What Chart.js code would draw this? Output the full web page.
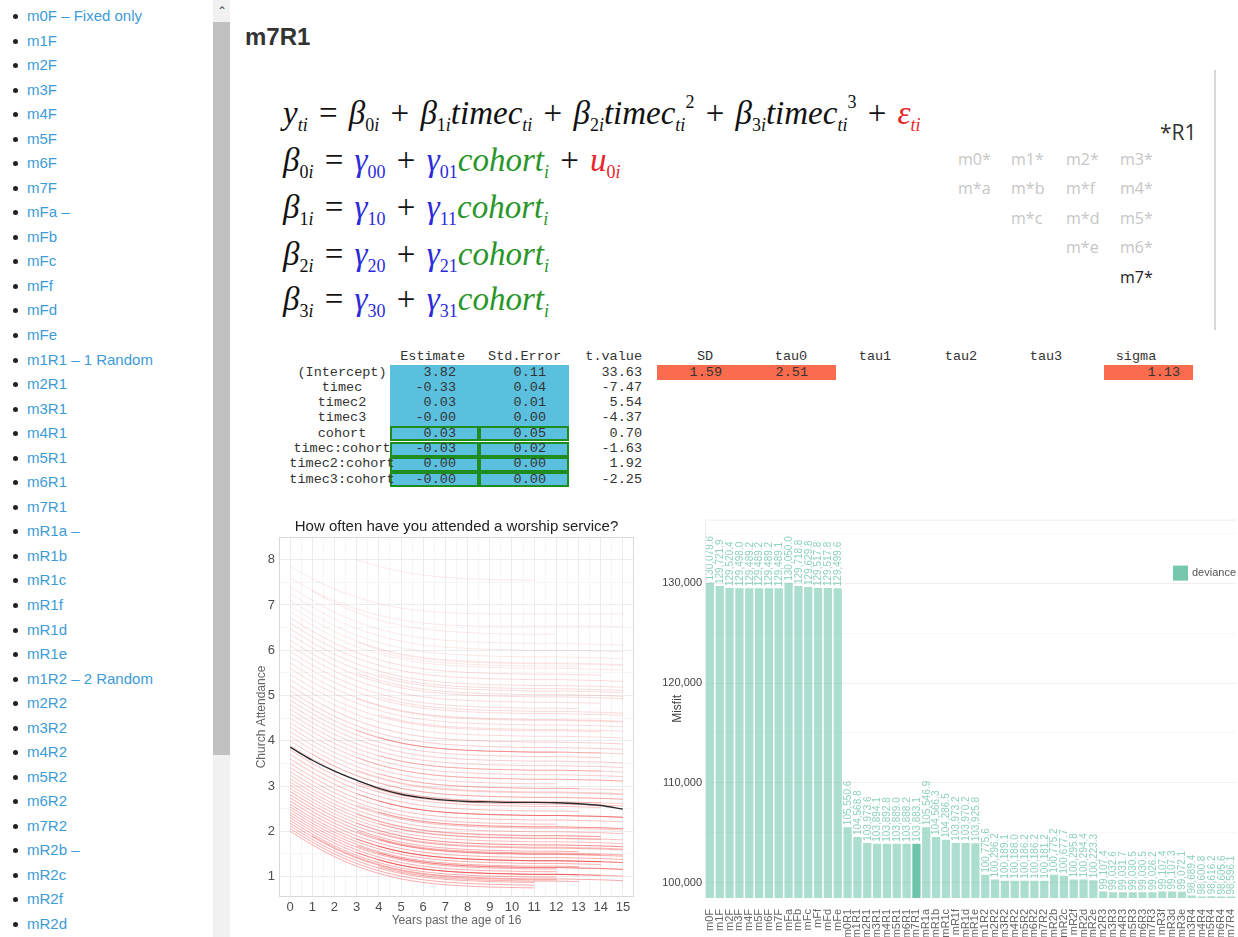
<!DOCTYPE html>
<html><head><meta charset="utf-8">
<script src="https://cdn.jsdelivr.net/npm/chart.js@4.4.1/dist/chart.umd.min.js"></script>
<style>
body{margin:0;width:1238px;height:937px;overflow:hidden;background:#fff;font-family:"Liberation Sans",Arial,sans-serif;position:relative}
.abs{position:absolute;white-space:nowrap}
#side li{position:absolute;left:27px;font-size:15px;color:#3d9bd6;line-height:18px;list-style:none;white-space:nowrap}
#side li:before{content:"";position:absolute;left:-14px;top:7px;width:5px;height:5px;border-radius:50%;background:#222}
#track{position:absolute;left:213px;top:0;width:17px;height:937px;background:#f1f1f1}
#thumb{position:absolute;left:213px;top:22px;width:17px;height:733px;background:#c1c1c1}
#arrow{position:absolute;left:213px;top:2px;width:17px;height:18px;text-align:center;font-size:12px;color:#555;line-height:18px}
h1{position:absolute;left:245px;top:22px;margin:0;font-size:24px;font-weight:bold;color:#333;line-height:30px}
.eq{position:absolute;left:283px;font-family:"Liberation Serif","Times New Roman",serif;font-style:italic;font-size:33px;line-height:36px;white-space:nowrap;color:#111;word-spacing:3px}
.eq sub{font-size:18px;vertical-align:-7px;line-height:0;word-spacing:0}
.eq sup{font-size:18px;vertical-align:16px;line-height:0}
.eq .n{font-style:normal}
.b{color:#2b2bd9}.g{color:#2a962a}.r{color:#e8252a}
.mg{position:absolute;font-family:"Open Sans",sans-serif;font-size:16px;color:#c6c6c6;line-height:18px}
.tb{position:absolute;font-family:"Liberation Mono","Courier New",monospace;font-size:13.5px;color:#333;line-height:16px;white-space:nowrap}
.cell{position:absolute;box-sizing:border-box}
</style></head>
<body>
<div id="side"><ul id="sideList" style="margin:0;padding:0"></ul></div>
<div id="track"></div><div id="thumb"></div><div id="arrow">&#8963;</div>
<h1>m7R1</h1>

<div class="eq" style="top:95px"><i>y</i><sub>ti</sub> <span class="n">=</span> <i>β</i><sub><span class="n">0</span>i</sub> <span class="n">+</span> <i>β</i><sub><span class="n">1</span>i</sub>timec<sub>ti</sub> <span class="n">+</span> <i>β</i><sub><span class="n">2</span>i</sub>timec<sub>ti</sub><sup class="n">2</sup> <span class="n">+</span> <i>β</i><sub><span class="n">3</span>i</sub>timec<sub>ti</sub><sup class="n">3</sup> <span class="n">+</span> <span class="r">ε<sub>ti</sub></span></div>
<div class="eq" style="top:142px"><i>β</i><sub><span class="n">0</span>i</sub> <span class="n">=</span> <span class="b">γ<sub class="n">00</sub></span> <span class="n">+</span> <span class="b">γ<sub class="n">01</sub></span><span class="g">cohort<sub>i</sub></span> <span class="n">+</span> <span class="r">u<sub><span class="n">0</span>i</sub></span></div>
<div class="eq" style="top:189px"><i>β</i><sub><span class="n">1</span>i</sub> <span class="n">=</span> <span class="b">γ<sub class="n">10</sub></span> <span class="n">+</span> <span class="b">γ<sub class="n">11</sub></span><span class="g">cohort<sub>i</sub></span></div>
<div class="eq" style="top:236px"><i>β</i><sub><span class="n">2</span>i</sub> <span class="n">=</span> <span class="b">γ<sub class="n">20</sub></span> <span class="n">+</span> <span class="b">γ<sub class="n">21</sub></span><span class="g">cohort<sub>i</sub></span></div>
<div class="eq" style="top:281px"><i>β</i><sub><span class="n">3</span>i</sub> <span class="n">=</span> <span class="b">γ<sub class="n">30</sub></span> <span class="n">+</span> <span class="b">γ<sub class="n">31</sub></span><span class="g">cohort<sub>i</sub></span></div>

<div class="abs" style="left:1160px;top:118px;font-family:'Open Sans',sans-serif;font-size:21px;color:#333">*R1</div>
<div id="modelGrid"></div>
<div class="abs" style="left:1214px;top:70px;width:2px;height:260px;background:#d8d8d8"></div>

<div id="tableBox"></div>

<canvas id="lineChart" width="395" height="420" style="position:absolute;left:250px;top:515px"></canvas>
<canvas id="barChart" width="578" height="427" style="position:absolute;left:660px;top:510px"></canvas>

<script>
// ---------- page text ----------
const sidebarItems = ['m0F – Fixed only','m1F','m2F','m3F','m4F','m5F','m6F','m7F','mFa –','mFb','mFc','mFf','mFd','mFe',
 'm1R1 – 1 Random','m2R1','m3R1','m4R1','m5R1','m6R1','m7R1','mR1a –','mR1b','mR1c','mR1f','mR1d','mR1e',
 'm1R2 – 2 Random','m2R2','m3R2','m4R2','m5R2','m6R2','m7R2','mR2b –','mR2c','mR2f','mR2d'];
const modelGrid = [['m0*',0,0],['m1*',1,0],['m2*',2,0],['m3*',3,0],['m*a',0,1],['m*b',1,1],['m*f',2,1],['m4*',3,1],
 ['m*c',1,2],['m*d',2,2],['m5*',3,2],['m*e',2,3],['m6*',3,3],['m7*',3,4]];
const rowNames = ['(Intercept)','timec','timec2','timec3','cohort','timec:cohort','timec2:cohort','timec3:cohort'];
const estimates = ['3.82','-0.33','0.03','-0.00','0.03','-0.03','0.00','-0.00'];
const stdErrors = ['0.11','0.04','0.01','0.00','0.05','0.02','0.00','0.00'];
const tValues = ['33.63','-7.47','5.54','-4.37','0.70','-1.63','1.92','-2.25'];
const randHeaders = ['SD','tau0','tau1','tau2','tau3','sigma'];
const randValues = ['1.59','2.51','','','','1.13'];

// ---------- chart 1 data ----------
const yearTicks = [0,1,2,3,4,5,6,7,8,9,10,11,12,13,14,15];
const attendanceTicks = [1,2,3,4,5,6,7,8];
const meanTrajectory = [3.86,3.57,3.33,3.13,2.95,2.82,2.74,2.69,2.66,2.65,2.64,2.64,2.63,2.61,2.57,2.49];
// [first year, predicted attendance per year]
const cohortLines = [
 [0,[2.00,1.70,1.44,1.23,1.07,0.95,0.87,0.82,0.79,0.77,0.76,0.75]],
 [0,[2.06,1.76,1.50,1.29,1.13,1.01,0.93,0.88,0.85,0.83,0.82,0.81]],
 [0,[2.12,1.82,1.56,1.35,1.19,1.07,0.99,0.94,0.91,0.89,0.88,0.87]],
 [0,[2.18,1.88,1.62,1.41,1.25,1.13,1.05,1.00,0.97,0.95,0.94,0.93,0.93]],
 [0,[2.24,1.94,1.68,1.47,1.31,1.19,1.11,1.06,1.03,1.01,1.00,0.99,0.99]],
 [0,[2.30,2.00,1.74,1.53,1.37,1.25,1.17,1.12,1.09,1.07,1.06,1.05,1.05,1.04]],
 [0,[2.36,2.06,1.80,1.59,1.43,1.31,1.23,1.18,1.15,1.13,1.12,1.11,1.11]],
 [0,[2.42,2.12,1.86,1.65,1.49,1.37,1.29,1.24,1.21,1.19,1.18,1.17,1.17]],
 [0,[2.48,2.18,1.92,1.71,1.55,1.43,1.35,1.30,1.27,1.25,1.24,1.23,1.23,1.22]],
 [0,[2.54,2.24,1.98,1.77,1.61,1.49,1.41,1.36,1.33,1.31,1.30,1.29,1.29,1.28,1.27]],
 [0,[2.60,2.30,2.04,1.83,1.67,1.55,1.47,1.42,1.39,1.37,1.36,1.35,1.35,1.34,1.33]],
 [0,[2.67,2.37,2.11,1.90,1.74,1.62,1.54,1.49,1.46,1.44,1.43,1.42,1.42,1.41,1.40,1.38]],
 [0,[2.74,2.44,2.18,1.97,1.81,1.69,1.61,1.56,1.53,1.51,1.50,1.49,1.49,1.48,1.47,1.45]],
 [0,[2.81,2.51,2.25,2.04,1.88,1.76,1.68,1.63,1.60,1.58,1.57,1.56,1.56,1.55]],
 [0,[2.88,2.58,2.32,2.11,1.95,1.83,1.75,1.70,1.67,1.65,1.64,1.63,1.63,1.62,1.61,1.59]],
 [0,[2.95,2.65,2.39,2.18,2.02,1.90,1.82,1.77,1.74,1.72,1.71,1.70,1.70,1.69,1.68,1.66]],
 [0,[3.02,2.72,2.46,2.25,2.09,1.97,1.89,1.84,1.81,1.79,1.78,1.77,1.77,1.76,1.75,1.73]],
 [0,[3.09,2.79,2.53,2.32,2.16,2.04,1.96,1.91,1.88,1.86,1.85,1.84,1.84,1.83,1.82]],
 [0,[3.16,2.86,2.60,2.39,2.23,2.11,2.03,1.98,1.95,1.93,1.92,1.91,1.91,1.90,1.89]],
 [0,[3.24,2.94,2.68,2.47,2.31,2.19,2.11,2.06,2.03,2.01,2.00,1.99,1.99,1.98,1.97,1.95]],
 [0,[3.32,3.02,2.76,2.55,2.39,2.27,2.19,2.14,2.11,2.09,2.08,2.07,2.07,2.06,2.05,2.03]],
 [0,[3.41,3.11,2.85,2.64,2.48,2.36,2.28,2.23,2.20,2.18,2.17,2.16,2.16]],
 [0,[3.50,3.20,2.94,2.73,2.57,2.45,2.37,2.32,2.29,2.27,2.26,2.25,2.25,2.24,2.23,2.21]],
 [0,[3.60,3.30,3.04,2.83,2.67,2.55,2.47,2.42,2.39,2.37,2.36,2.35,2.35,2.34,2.33,2.31]],
 [0,[3.70,3.40,3.14,2.93,2.77,2.65,2.57,2.52,2.49,2.47,2.46,2.45,2.45,2.44]],
 [0,[3.80,3.50,3.24,3.03,2.87,2.75,2.67,2.62,2.59,2.57,2.56,2.55,2.55,2.54,2.53]],
 [0,[3.90,3.60,3.34,3.13,2.97,2.85,2.77,2.72,2.69,2.67,2.66,2.65,2.65,2.64,2.63,2.61]],
 [0,[4.00,3.70,3.44,3.23,3.07,2.95,2.87,2.82,2.79,2.77,2.76,2.75,2.75,2.74,2.73,2.71]],
 [0,[4.10,3.80,3.54,3.33,3.17,3.05,2.97,2.92,2.89,2.87,2.86,2.85,2.85,2.84,2.83,2.81]],
 [0,[4.20,3.90,3.64,3.43,3.27,3.15,3.07,3.02,2.99,2.97,2.96,2.95,2.95,2.94]],
 [0,[4.30,4.00,3.74,3.53,3.37,3.25,3.17,3.12,3.09,3.07,3.06,3.05,3.05]],
 [0,[4.40,4.10,3.84,3.63,3.47,3.35,3.27,3.22,3.19,3.17,3.16,3.15,3.15,3.14,3.13,3.11]],
 [0,[4.50,4.20,3.94,3.73,3.57,3.45,3.37,3.32,3.29,3.27,3.26,3.25,3.25,3.24,3.23,3.21]],
 [0,[4.60,4.30,4.04,3.83,3.67,3.55,3.47,3.42,3.39,3.37,3.36,3.35,3.35,3.34,3.33]],
 [0,[4.70,4.40,4.14,3.93,3.77,3.65,3.57,3.52,3.49,3.47,3.46,3.45,3.45,3.44,3.43,3.41]],
 [0,[4.80,4.50,4.24,4.03,3.87,3.75,3.67,3.62,3.59,3.57,3.56,3.55,3.55,3.54,3.53,3.51]],
 [0,[4.90,4.60,4.34,4.13,3.97,3.85,3.77,3.72,3.69,3.67,3.66,3.65,3.65,3.64,3.63]],
 [0,[5.00,4.70,4.44,4.23,4.07,3.95,3.87,3.82,3.79,3.77,3.76,3.75,3.75]],
 [0,[5.10,4.80,4.54,4.33,4.17,4.05,3.97,3.92,3.89,3.87,3.86,3.85,3.85,3.84,3.83,3.81]],
 [0,[5.22,4.92,4.66,4.45,4.29,4.17,4.09,4.04,4.01,3.99,3.98,3.97,3.97,3.96,3.95,3.93]],
 [0,[5.35,5.05,4.79,4.58,4.42,4.30,4.22,4.17,4.14,4.12,4.11,4.10,4.10,4.09,4.08,4.06]],
 [0,[5.47,5.17,4.91,4.70,4.54,4.42,4.34,4.29,4.26,4.24,4.23,4.22,4.22,4.21,4.20]],
 [0,[5.60,5.30,5.04,4.83,4.67,4.55,4.47,4.42,4.39,4.37,4.36,4.35,4.35,4.34,4.33,4.31]],
 [0,[5.72,5.42,5.16,4.95,4.79,4.67,4.59,4.54,4.51,4.49,4.48,4.47,4.47,4.46,4.45,4.43]],
 [0,[5.85,5.55,5.29,5.08,4.92,4.80,4.72,4.67,4.64,4.62,4.61,4.60,4.60,4.59,4.58,4.56]],
 [0,[5.97,5.67,5.41,5.20,5.04,4.92,4.84,4.79,4.76,4.74,4.73,4.72,4.72,4.71]],
 [0,[6.10,5.80,5.54,5.33,5.17,5.05,4.97,4.92,4.89,4.87,4.86,4.85,4.85,4.84,4.83]],
 [0,[6.22,5.92,5.66,5.45,5.29,5.17,5.09,5.04,5.01,4.99,4.98,4.97,4.97,4.96,4.95,4.93]],
 [0,[6.35,6.05,5.79,5.58,5.42,5.30,5.22,5.17,5.14,5.12,5.11,5.10,5.10,5.09,5.08,5.06]],
 [0,[6.47,6.17,5.91,5.70,5.54,5.42,5.34,5.29,5.26,5.24,5.23,5.22,5.22,5.21,5.20,5.18]],
 [0,[6.60,6.30,6.04,5.83,5.67,5.55,5.47,5.42,5.39,5.37,5.36,5.35,5.35,5.34,5.33,5.31]],
 [0,[6.72,6.42,6.16,5.95,5.79,5.67,5.59,5.54,5.51,5.49,5.48,5.47,5.47,5.46,5.45]],
 [0,[6.85,6.55,6.29,6.08,5.92,5.80,5.72,5.67,5.64,5.62,5.61,5.60,5.60,5.59,5.58,5.56]],
 [0,[6.97,6.67,6.41,6.20,6.04,5.92,5.84,5.79,5.76,5.74,5.73,5.72,5.72,5.71,5.70,5.68]],
 [0,[7.10,6.80,6.54,6.33,6.17,6.05,5.97,5.92,5.89,5.87,5.86,5.85,5.85,5.84,5.83,5.81]],
 [0,[7.25,6.95,6.69,6.48,6.32,6.20,6.12,6.07,6.04,6.02,6.01,6.00,6.00,5.99,5.98,5.96]],
 [0,[7.40,7.10,6.84,6.63,6.47,6.35,6.27,6.22,6.19,6.17,6.16,6.15,6.15,6.14,6.13,6.11]],
 [0,[7.60,7.32,7.09,6.91,6.77,6.67,6.60,6.56,6.54,6.53,6.53,6.53,6.53,6.53,6.53,6.52]],
 [0,[7.85,7.58,7.35,7.17,7.03,6.93,6.87,6.83,6.81,6.80,6.80,6.80,6.80,6.80,6.80,6.80]],
 [1,[7.30,7.04,6.83,6.67,6.55,6.47,6.42,6.39,6.37,6.36,6.35,6.35]],
 [1,[3.70,3.44,3.23,3.07,2.95,2.87,2.82,2.79,2.77,2.76,2.75,2.75,2.74,2.73,2.71]],
 [1,[1.90,1.64,1.43,1.27,1.15,1.07,1.02,0.99,0.97,0.96,0.95,0.95,0.94,0.93,0.91]],
 [3,[1.53,1.37,1.25,1.17,1.12,1.09,1.07,1.06,1.05,1.05,1.04,1.03,1.01]],
 [3,[1.68,1.52,1.40,1.32,1.27,1.24,1.22,1.21,1.20,1.20,1.19,1.18,1.16]],
 [3,[1.83,1.67,1.55,1.47,1.42,1.39,1.37,1.36,1.35,1.35,1.34,1.33,1.31]],
 [3,[2.00,1.84,1.72,1.64,1.59,1.56,1.54,1.53,1.52,1.52,1.51,1.50,1.48]],
 [3,[2.18,2.02,1.90,1.82,1.77,1.74,1.72,1.71,1.70,1.70,1.69,1.68,1.66]],
 [3,[2.38,2.22,2.10,2.02,1.97,1.94,1.92,1.91,1.90,1.90,1.89,1.88]],
 [3,[2.58,2.42,2.30,2.22,2.17,2.14,2.12,2.11,2.10,2.10,2.09,2.08,2.06]],
 [3,[2.83,2.67,2.55,2.47,2.42,2.39,2.37,2.36,2.35,2.35,2.34,2.33,2.31]],
 [3,[3.08,2.92,2.80,2.72,2.67,2.64,2.62,2.61,2.60,2.60,2.59,2.58,2.56]],
 [3,[3.35,3.19,3.07,2.99,2.94,2.91,2.89,2.88,2.87,2.87,2.86,2.85,2.83]],
 [3,[3.63,3.47,3.35,3.27,3.22,3.19,3.17,3.16,3.15,3.15,3.14,3.13,3.11]],
 [3,[4.23,4.07,3.95,3.87,3.82,3.79,3.77,3.76,3.75,3.75,3.74,3.73,3.71]],
 [3,[4.93,4.77,4.65,4.57,4.52,4.49,4.47,4.46,4.45,4.45,4.44,4.43,4.41]],
 [3,[5.50,5.34,5.22,5.14,5.09,5.06,5.04,5.03,5.02,5.02,5.01,5.00,4.98]],
 [3,[6.18,6.02,5.90,5.82,5.77,5.74,5.72,5.71,5.70,5.70,5.69,5.68,5.66]],
 [3,[8.00,7.85,7.74,7.66,7.61,7.58,7.56,7.55,7.54]],
 [4,[1.22,1.10,1.02,0.97,0.94,0.92,0.91,0.90,0.90,0.89]],
 [4,[1.37,1.25,1.17,1.12,1.09,1.07,1.06,1.05,1.05,1.04,1.03]],
 [4,[1.52,1.40,1.32,1.27,1.24,1.22,1.21,1.20,1.20,1.19,1.18,1.16]],
 [4,[1.67,1.55,1.47,1.42,1.39,1.37,1.36,1.35,1.35,1.34,1.33,1.31]],
 [4,[1.82,1.70,1.62,1.57,1.54,1.52,1.51,1.50,1.50,1.49,1.48]],
 [4,[1.97,1.85,1.77,1.72,1.69,1.67,1.66,1.65,1.65,1.64,1.63,1.61]],
 [4,[2.17,2.05,1.97,1.92,1.89,1.87,1.86,1.85,1.85,1.84,1.83,1.81]],
 [4,[2.42,2.30,2.22,2.17,2.14,2.12,2.11,2.10,2.10,2.09,2.08,2.06]],
 [4,[2.67,2.55,2.47,2.42,2.39,2.37,2.36,2.35,2.35,2.34,2.33,2.31]],
 [4,[2.97,2.85,2.77,2.72,2.69,2.67,2.66,2.65,2.65,2.64,2.63]],
 [4,[3.27,3.15,3.07,3.02,2.99,2.97,2.96,2.95,2.95,2.94,2.93,2.91]],
 [4,[3.67,3.55,3.47,3.42,3.39,3.37,3.36,3.35,3.35,3.34,3.33,3.31]],
 [4,[4.07,3.95,3.87,3.82,3.79,3.77,3.76,3.75,3.75,3.74,3.73]],
 [4,[4.57,4.45,4.37,4.32,4.29,4.27,4.26,4.25,4.25,4.24,4.23,4.21]],
 [4,[4.97,4.85,4.77,4.72,4.69,4.67,4.66,4.65,4.65,4.64,4.63,4.61]],
 [4,[5.47,5.35,5.27,5.22,5.19,5.17,5.16,5.15,5.15,5.14,5.13,5.11]],
 [4,[5.97,5.85,5.77,5.72,5.69,5.67,5.66,5.65,5.65,5.64]]
];

// ---------- chart 2 data ----------
const models = ['m0F','m1F','m2F','m3F','m4F','m5F','m6F','m7F','mFa','mFb','mFc','mFf','mFd','mFe',
 'm0R1','m1R1','m2R1','m3R1','m4R1','m5R1','m6R1','m7R1','mR1a','mR1b','mR1c','mR1f','mR1d','mR1e',
 'm1R2','m2R2','m3R2','m4R2','m5R2','m6R2','m7R2','mR2b','mR2c','mR2f','mR2d','mR2e',
 'm2R3','m3R3','m4R3','m5R3','m6R3','m7R3','mR3f','mR3d','mR3e',
 'm3R4','m4R4','m5R4','m6R4','m7R4'];
const deviance = [130079.6,129721.9,129520.4,129498.0,129489.2,129489.2,129489.2,129489.1,130050.0,129718.8,129629.8,129517.8,129517.8,129499.6,
 105550.6,104568.8,103973.6,103894.1,103892.8,103889.0,103888.2,103883.1,105546.9,104566.3,104286.5,103973.2,103970.2,103925.8,
 100775.6,100296.2,100189.1,100188.0,100186.2,100186.2,100181.2,100775.2,100677.7,100295.8,100294.4,100223.3,
 99107.4,99032.6,99031.7,99030.5,99030.5,99026.2,99107.4,99107.3,99072.1,
 98689.4,98600.8,98616.2,98605.6,98596.1];
const misfitTicks = [100000,105000,110000,115000,120000,125000,130000,135000];
const currentModel = 'm7R1';

// ---------- build page text ----------
const ul = document.getElementById('sideList');
sidebarItems.forEach((t,i)=>{const li=document.createElement('li');li.textContent=t;li.style.top=(7+i*24.54)+'px';ul.appendChild(li);});
const mg = document.getElementById('modelGrid');
const gridX=[958,1011,1066,1120], gridY=[160,189,219,248,278];
modelGrid.forEach(([t,c,r])=>{const d=document.createElement('div');d.className='mg';d.textContent=t;d.style.left=gridX[c]+'px';d.style.top=(gridY[r]-10)+'px';if(t==='m7*')d.style.color='#222';mg.appendChild(d);});

const tb = document.getElementById('tableBox');
function txt(t,x,y,align){const d=document.createElement('div');d.className='tb';d.textContent=t;d.style.left=x+'px';d.style.top=(y-8)+'px';
 d.style.transform=align==='r'?'translateX(-100%)':align==='c'?'translateX(-50%)':'none';tb.appendChild(d);return d;}
function cell(x1,x2,y1,h,bg,border){const d=document.createElement('div');d.className='cell';d.style.left=x1+'px';d.style.top=y1+'px';d.style.width=(x2-x1)+'px';d.style.height=h+'px';d.style.background=bg;if(border)d.style.border=border;tb.appendChild(d);}
const rowTop=365,rowH=15.3;
rowNames.forEach((n,i)=>{
 const y1=rowTop+i*rowH;
 const bd = n.indexOf('cohort')>=0 ? '2px solid #1e8c1e' : null;
 cell(390,479,y1,rowH,'#5bc0de',bd); cell(479,569,y1,rowH,'#5bc0de',bd);
});
const randCells=[[657,748],[748,836],[836,920],[920,1005],[1005,1090],[1104,1193]];
const randHeadX=[705,791,875,961,1046,1136], randValX=[722,808,892,978,1062,1180];
randValues.forEach((v,j)=>{if(v!=='')cell(randCells[j][0],randCells[j][1],rowTop,rowH,'#fb6b4e',null);});
txt('Estimate',465,357,'r');txt('Std.Error',561,357,'r');txt('t.value',642,357,'r');
randHeaders.forEach((h,j)=>txt(h,randHeadX[j],357,'c'));
rowNames.forEach((n,i)=>{const y=rowTop+i*rowH+7.5;
 txt(n,342,y,'c');txt(estimates[i],456,y,'r');txt(stdErrors[i],546,y,'r');txt(tValues[i],642,y,'r');});
randValues.forEach((v,j)=>{if(v!=='')txt(v,randValX[j],rowTop+7.5,'r');});

// ---------- charts ----------
Chart.defaults.font.family='"Liberation Sans", Arial, sans-serif';
Chart.defaults.animation=false;

function withHalves(arr){const out=[];arr.forEach((v,i)=>{out.push({value:v});if(i<arr.length-1)out.push({value:(v+arr[i+1])/2});});return out;}
const panelBorder={id:'panelBorder',afterDraw(c,args,opts){const a=c.chartArea,x=c.ctx;x.save();x.strokeStyle=opts.color;x.lineWidth=1;x.strokeRect(a.left+0.5,a.top+0.5,a.width-1,a.height-1);x.restore();}};

const lineDatasets=[{
  data:meanTrajectory.map((y,i)=>({x:yearTicks[i],y})),
  borderColor:'#2a2a2a',borderWidth:1.4,pointRadius:0,cubicInterpolationMode:'monotone',order:0
}];
cohortLines.forEach(([start,vals])=>{
  const last=vals[vals.length-1];
  const a= last<1.6?0.36: last<2.6?0.28: last<4?0.21: last<5.5?0.16:0.1;
  lineDatasets.push({data:vals.map((y,i)=>({x:start+i,y})),borderColor:`rgba(238,30,30,${a})`,borderWidth:1,pointRadius:0,cubicInterpolationMode:'monotone',order:1});
});

new Chart(document.getElementById('lineChart'),{
  type:'line',
  data:{datasets:lineDatasets},
  options:{
    responsive:false,
    layout:{padding:{left:0,right:11,top:0,bottom:0}},
    plugins:{legend:{display:false},tooltip:{enabled:false},
      title:{display:true,fullSize:false,text:'How often have you attended a worship service?',color:'#222',font:{size:15,weight:'normal'},padding:{top:3,bottom:1}},
      panelBorder:{color:'#d9d9d9'}},
    scales:{
      x:{type:'linear',min:-0.5,max:15.5,
        afterBuildTicks:s=>{s.ticks=withHalves(yearTicks);},
        afterFit:s=>{s.height=38;},
        ticks:{autoSkip:false,maxRotation:0,color:'#4d4d4d',font:{size:13},padding:3,callback:v=>Number.isInteger(v)?String(v):''},
        grid:{drawTicks:false,color:c=>Number.isInteger(c.tick.value)?'#ececec':'#f6f6f6'},
        border:{display:false},
        title:{display:true,text:'Years past the age of 16',color:'#666',font:{size:12},padding:{top:0,bottom:7}}},
      y:{type:'linear',min:0.55,max:8.5,
        afterBuildTicks:s=>{s.ticks=withHalves(attendanceTicks).concat([{value:8.5}]);},
        afterFit:s=>{s.width=29;},
        ticks:{autoSkip:false,color:'#4d4d4d',font:{size:13},padding:4,callback:v=>Number.isInteger(v)?String(v):''},
        grid:{drawTicks:false,color:c=>Number.isInteger(c.tick.value)?'#ececec':'#f6f6f6'},
        border:{display:false},
        title:{display:true,text:'Church Attendance',color:'#666',font:{size:12},padding:{top:4,bottom:0}}}
    }
  },
  plugins:[panelBorder]
});

const fmt=v=>v.toLocaleString('en-US',{minimumFractionDigits:1,maximumFractionDigits:1});
const barLabels={id:'barLabels',afterDatasetsDraw(c){const x=c.ctx;const meta=c.getDatasetMeta(0);x.save();x.font='10px "Liberation Sans", Arial, sans-serif';x.fillStyle='rgba(102,194,165,0.75)';x.textAlign='left';x.textBaseline='middle';
  meta.data.forEach((el,i)=>{x.save();x.translate(el.x,el.y-2);x.rotate(-Math.PI/2);x.fillText(fmt(c.data.datasets[0].data[i]),0,0.5);x.restore();});x.restore();}};
const barLegend={id:'barLegend',afterDraw(c){const a=c.chartArea,x=c.ctx,ds=c.data.datasets[0];x.save();x.fillStyle='rgba(102,194,165,0.9)';x.fillRect(a.right-63,a.top+46,15,15);
  x.fillStyle='#555';x.font='11px "Liberation Sans", Arial, sans-serif';x.textBaseline='middle';x.textAlign='left';x.fillText(ds.label,a.right-44,a.top+53.5);x.restore();}};
const topLine={id:'topLine',afterDraw(c){const a=c.chartArea,x=c.ctx;x.save();x.strokeStyle='#ececec';x.lineWidth=1;x.beginPath();x.moveTo(a.left,a.top+0.5);x.lineTo(a.right,a.top+0.5);x.moveTo(a.left+0.5,a.top);x.lineTo(a.left+0.5,a.bottom);x.stroke();x.restore();}};

new Chart(document.getElementById('barChart'),{
  type:'bar',
  data:{labels:models,datasets:[{label:'deviance',data:deviance,
    backgroundColor:models.map(m=>m===currentModel?'rgba(102,194,165,0.95)':'rgba(102,194,165,0.55)'),
    barPercentage:0.84,categoryPercentage:1}]},
  options:{
    responsive:false,
    layout:{padding:{left:0,right:2,top:7,bottom:0}},
    plugins:{legend:{display:false},tooltip:{enabled:false}},
    scales:{
      x:{afterFit:s=>{s.height=39;s.paddingLeft=0;s.paddingRight=0;},
        ticks:{autoSkip:false,minRotation:90,maxRotation:90,color:'#666',font:{size:11},padding:3},
        grid:{display:false},border:{display:false}},
      y:{min:98450,max:136380,
        afterBuildTicks:s=>{s.ticks=misfitTicks.map(v=>({value:v}));},
        afterFit:s=>{s.width=45;},
        ticks:{color:'#444',font:{size:11},padding:3,callback:v=>v%10000===0?v.toLocaleString('en-US'):''},
        grid:{drawTicks:false,color:c=>c.tick.value%10000===0?'#efefef':'#f7f7f7'},
        border:{display:false},
        title:{display:true,text:'Misfit',color:'#444',font:{size:12},padding:{top:10,bottom:0}}}
    }
  },
  plugins:[barLabels,barLegend,topLine]
});
</script>
</body></html>
